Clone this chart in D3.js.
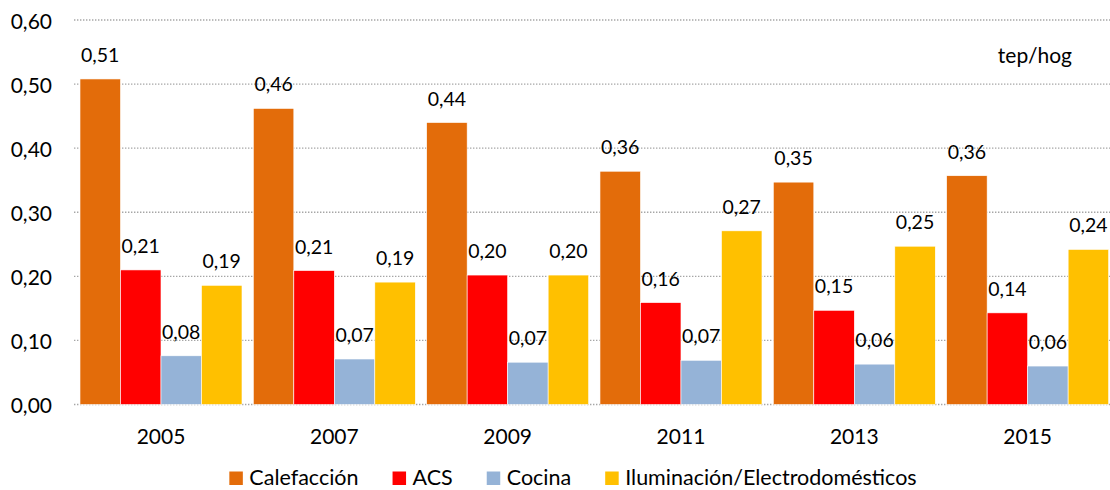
<!DOCTYPE html>
<html>
<head>
<meta charset="utf-8">
<script src="https://cdn.jsdelivr.net/npm/d3@7"></script>
<style>
  html, body { margin: 0; padding: 0; background: #ffffff; }
  svg { display: block; font-family: Lato, "Open Sans", sans-serif; }
</style>
</head>
<body>
<svg id="chart" width="1110" height="490"></svg>
<script>
// Household energy consumption by end use (tep per household)
const years = ["2005", "2007", "2009", "2011", "2013", "2015"];
const calefaccion = [0.508, 0.462, 0.440, 0.364, 0.347, 0.357];
const acs = [0.210, 0.209, 0.202, 0.159, 0.147, 0.143];
const cocina = [0.076, 0.071, 0.066, 0.069, 0.063, 0.060];
const iluminacion = [0.186, 0.191, 0.202, 0.271, 0.247, 0.242];
const seriesNames = ["Calefacción", "ACS", "Cocina", "Iluminación/Electrodomésticos"];
const seriesColors = ["#E36C0A", "#FF0000", "#95B3D7", "#FFC000"];
const yTicks = [0, 0.1, 0.2, 0.3, 0.4, 0.5, 0.6];
const unitLabel = "tep/hog";

const seriesValues = [calefaccion, acs, cocina, iluminacion];
const rows = years.map((y, i) => ({
  year: y,
  values: seriesNames.map((s, k) => ({ key: s, value: seriesValues[k][i], color: seriesColors[k] }))
}));

const svg = d3.select("#chart");
const es = d3.formatLocale({ decimal: ",", thousands: ".", grouping: [3], currency: ["", "€"] });
const fmt = es.format(".2f");

const gridLeft = 74, gridRight = 1110;
const y = d3.scaleLinear().domain([0, 0.6]).range([404.5, 20]);
const pad = 0.0654;
const x0 = d3.scaleBand().domain(years).range([74.33, 1114.3]).paddingInner(pad).paddingOuter(pad / 2);
const x1 = d3.scaleBand().domain(seriesNames).range([0, x0.bandwidth()]);

// dotted horizontal gridlines
svg.append("g").selectAll("line").data(yTicks).join("line")
  .attr("x1", gridLeft).attr("x2", gridRight)
  .attr("y1", d => y(d)).attr("y2", d => y(d))
  .attr("stroke", "#a6a6a6").attr("stroke-width", 1.4)
  .attr("stroke-dasharray", "1.4,1.6");

// y tick labels
svg.append("g").selectAll("text").data(yTicks).join("text")
  .attr("x", 52).attr("y", d => y(d))
  .attr("text-anchor", "end").attr("dominant-baseline", "central")
  .attr("font-size", 21).attr("fill", "#000")
  .text(d => fmt(d));

// bars
const groups = svg.append("g").selectAll("g").data(rows).join("g")
  .attr("transform", d => `translate(${x0(d.year)},0)`);

groups.selectAll("rect").data(d => d.values).join("rect")
  .attr("x", d => x1(d.key))
  .attr("y", d => y(d.value))
  .attr("width", x1.bandwidth())
  .attr("height", d => y(0) - y(d.value))
  .attr("fill", d => d.color)
  .attr("stroke", "#ffffff").attr("stroke-width", 0.6);

// value labels
groups.selectAll("text").data(d => d.values).join("text")
  .attr("x", d => x1(d.key) + x1.bandwidth() / 2)
  .attr("y", d => y(d.value) - 17)
  .attr("text-anchor", "middle")
  .attr("font-size", 19.5).attr("fill", "#000")
  .text(d => fmt(d.value));

// year labels
svg.append("g").selectAll("text").data(years).join("text")
  .attr("x", d => x0(d) + x0.bandwidth() / 2)
  .attr("y", 443.5)
  .attr("text-anchor", "middle")
  .attr("font-size", 21).attr("fill", "#000")
  .text(d => d);

// unit label
svg.append("text")
  .attr("x", 1072).attr("y", 63)
  .attr("text-anchor", "end")
  .attr("font-size", 21).attr("fill", "#000")
  .text(unitLabel);

// legend
const legend = svg.append("g");
const items = legend.selectAll("g").data(seriesNames).join("g");
items.append("rect")
  .attr("width", 13.5).attr("height", 13.5)
  .attr("y", 471.5)
  .attr("fill", (d, i) => seriesColors[i]);
items.append("text")
  .attr("x", 20).attr("y", 485)
  .attr("font-size", 21.5).attr("fill", "#000")
  .text(d => d);
let cx = 0;
const gap = 34;
items.each(function () {
  const g = d3.select(this);
  g.attr("transform", `translate(${cx},0)`);
  cx += 20 + g.select("text").node().getComputedTextLength() + gap;
});
const legendWidth = cx - gap;
legend.attr("transform", `translate(${573 - legendWidth / 2},0)`);
</script>
</body>
</html>
